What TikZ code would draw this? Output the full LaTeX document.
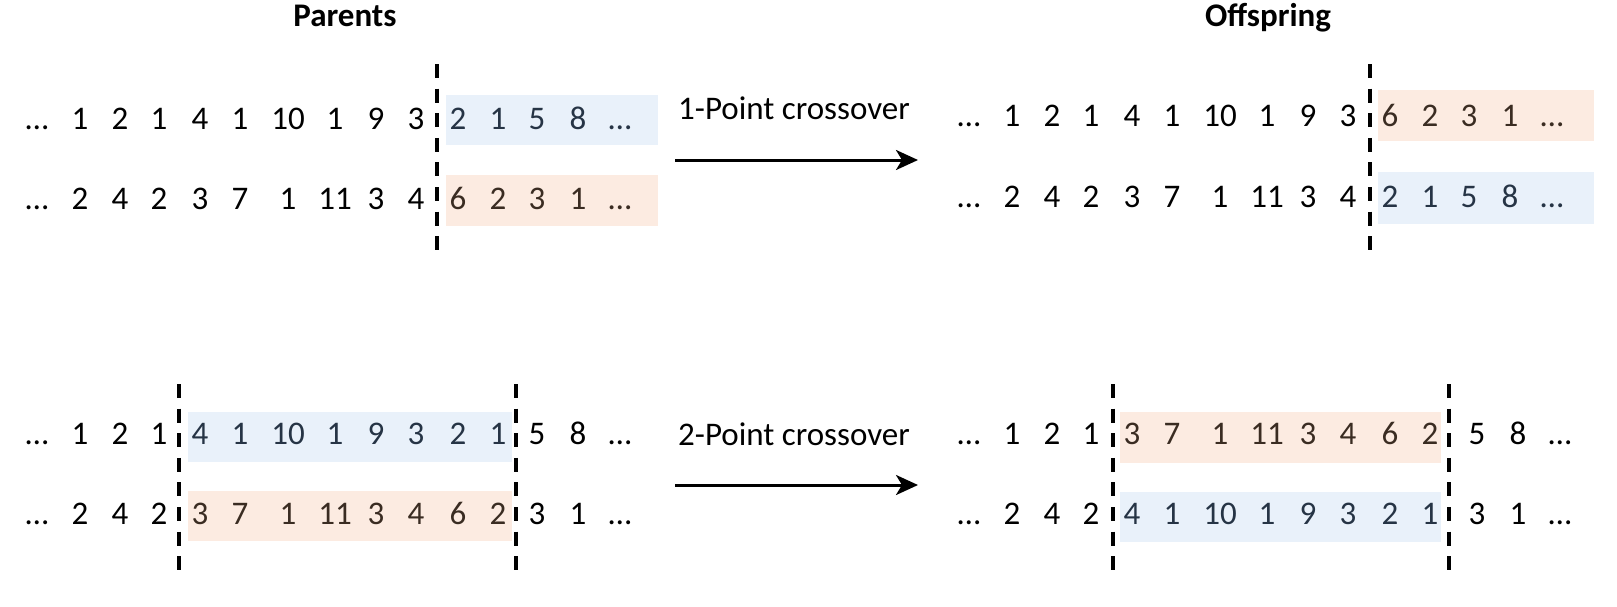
\documentclass[tikz,border=0pt]{standalone}
\usepackage{fontspec}
\setmainfont{Carlito}
\usetikzlibrary{arrows.meta, positioning}

\definecolor{boxblue}{HTML}{E9F1FA}
\definecolor{boxorange}{HTML}{FCEBE1}
\definecolor{txtblue}{HTML}{263445}
\definecolor{txtorange}{HTML}{3A2C22}

% column positions of the genes
\def\colx{{37,80,120,159,200,240,288,335,376,416,458,498,537,578,620}}
% one run of genes: prefix, x shift, y, style, list of column/text
\newcommand{\genes}[5]{%
  \foreach \c/\t in {#5} {
    \pgfmathsetmacro{\cx}{#2+\colx[\c]}
    \node[gene,#4] (#1\c) at (\cx,#3) {\t};
  }}

\begin{document}
\begin{tikzpicture}[x=0.5pt,y=-0.5pt]

\tikzset{gene/.style = {inner sep=0pt, text height=0.63em, text depth=0pt,
  font=\fontsize{16.5}{20}\selectfont}}
\tikzset{inblue/.style = {text=txtblue}}
\tikzset{inorange/.style = {text=txtorange}}
\tikzset{title/.style = {gene, font=\fontsize{16.5}{20}\selectfont\bfseries}}
\tikzset{opname/.style = {gene}}
\tikzset{cut/.style = {line width=2pt, dash pattern=on 7pt off 5.3pt}}
\tikzset{xarrow/.style = {line width=1.5pt, -{Stealth[length=11pt,width=10pt,inset=3pt]}}}

\useasboundingbox (0,0) rectangle (1617,606);

% titles
\node[title] (par) at (345,20) {Parents};
\node[title] (off) at (1268,20) {Offspring};

% highlighted segments
\fill[boxblue]   (446,95) rectangle (658,145);
\fill[boxorange] (446,175) rectangle (658,226);
\fill[boxorange] (1378,90) rectangle (1594,141);
\fill[boxblue]   (1378,172) rectangle (1594,224);
\fill[boxblue]   (188,412) rectangle (512,462);
\fill[boxorange] (188,491) rectangle (512,541);
\fill[boxorange] (1120,412) rectangle (1441,463);
\fill[boxblue]   (1120,492) rectangle (1441,542);

% 1-point crossover: parents
\genes{pa}{0}{123}{}{0/…,1/1,2/2,3/1,4/4,5/1,6/10,7/1,8/9,9/3}
\genes{pa}{0}{123}{inblue}{10/2,11/1,12/5,13/8,14/…}
\genes{pb}{0}{203}{}{0/…,1/2,2/4,3/2,4/3,5/7,6/1,7/11,8/3,9/4}
\genes{pb}{0}{203}{inorange}{10/6,11/2,12/3,13/1,14/…}

% 1-point crossover: offspring
\genes{oa}{932}{120}{}{0/…,1/1,2/2,3/1,4/4,5/1,6/10,7/1,8/9,9/3}
\genes{oa}{932}{120}{inorange}{10/6,11/2,12/3,13/1,14/…}
\genes{ob}{932}{201}{}{0/…,1/2,2/4,3/2,4/3,5/7,6/1,7/11,8/3,9/4}
\genes{ob}{932}{201}{inblue}{10/2,11/1,12/5,13/8,14/…}

% 2-point crossover: parents
\genes{pc}{0}{438}{}{0/…,1/1,2/2,3/1,12/5,13/8,14/…}
\genes{pc}{0}{438}{inblue}{4/4,5/1,6/10,7/1,8/9,9/3,10/2,11/1}
\genes{pd}{0}{518}{}{0/…,1/2,2/4,3/2,12/3,13/1,14/…}
\genes{pd}{0}{518}{inorange}{4/3,5/7,6/1,7/11,8/3,9/4,10/6,11/2}

% 2-point crossover: offspring
\genes{oc}{932}{438}{}{0/…,1/1,2/2,3/1}
\genes{oc}{940}{438}{}{12/5,13/8,14/…}
\genes{oc}{932}{438}{inorange}{4/3,5/7,6/1,7/11,8/3,9/4,10/6,11/2}
\genes{od}{932}{518}{}{0/…,1/2,2/4,3/2}
\genes{od}{940}{518}{}{12/3,13/1,14/…}
\genes{od}{932}{518}{inblue}{4/4,5/1,6/10,7/1,8/9,9/3,10/2,11/1}

% cut points
\coordinate (c1t) at (437,64);   \coordinate (c1b) at (437,250);
\coordinate (c2t) at (1370,64);  \coordinate (c2b) at (1370,250);
\coordinate (c3t) at (179,384);  \coordinate (c3b) at (179,570);
\coordinate (c4t) at (516,384);  \coordinate (c4b) at (516,570);
\coordinate (c5t) at (1113,384); \coordinate (c5b) at (1113,570);
\coordinate (c6t) at (1449,384); \coordinate (c6b) at (1449,570);
\foreach \k in {1,...,6}
  \draw[cut] (c\k t) -- (c\k b);

% operators
\node[opname] (op1) at (794,113) {1-Point crossover};
\node[opname] (op2) at (794,439) {2-Point crossover};
\coordinate (a1s) at (675,160); \coordinate (a1e) at (918,160);
\coordinate (a2s) at (675,485); \coordinate (a2e) at (918,485);
\draw[xarrow] (a1s) -- (a1e);
\draw[xarrow] (a2s) -- (a2e);

\end{tikzpicture}
\end{document}
